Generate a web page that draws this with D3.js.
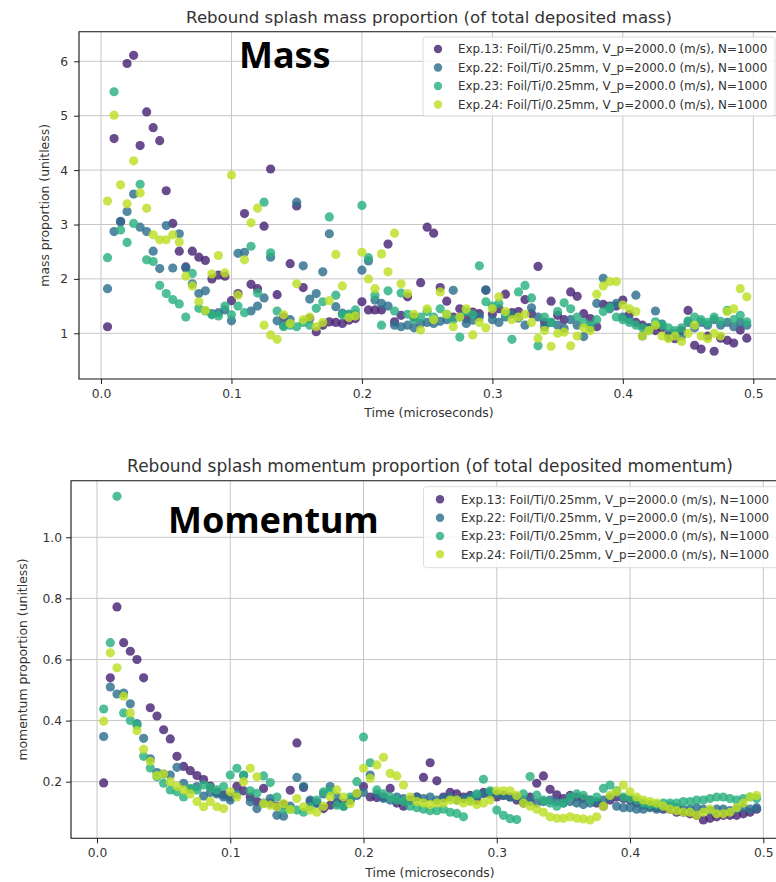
<!DOCTYPE html>
<html><head><meta charset="utf-8">
<script src="https://cdn.jsdelivr.net/npm/d3@7"></script>
<style>body{margin:0;background:#fff}svg{display:block}</style>
</head><body>
<svg id="c" width="776" height="882"></svg>
<script>
const times = [0.005,0.010,0.015,0.020,0.025,0.030,0.035,0.040,0.045,0.050,
0.055,0.060,0.065,0.070,0.075,0.080,0.085,0.090,0.095,0.100,
0.105,0.110,0.115,0.120,0.125,0.130,0.135,0.140,0.145,0.150,
0.155,0.160,0.165,0.170,0.175,0.180,0.185,0.190,0.195,0.200,
0.205,0.210,0.215,0.220,0.225,0.230,0.235,0.240,0.245,0.250,
0.255,0.260,0.265,0.270,0.275,0.280,0.285,0.290,0.295,0.300,
0.305,0.310,0.315,0.320,0.325,0.330,0.335,0.340,0.345,0.350,
0.355,0.360,0.365,0.370,0.375,0.380,0.385,0.390,0.395,0.400,
0.405,0.410,0.415,0.420,0.425,0.430,0.435,0.440,0.445,0.450,
0.455,0.460,0.465,0.470,0.475,0.480,0.485,0.490,0.495];

const seriesNames = ["Exp.13: Foil/Ti/0.25mm, V_p=2000.0 (m/s), N=1000",
"Exp.22: Foil/Ti/0.25mm, V_p=2000.0 (m/s), N=1000",
"Exp.23: Foil/Ti/0.25mm, V_p=2000.0 (m/s), N=1000",
"Exp.24: Foil/Ti/0.25mm, V_p=2000.0 (m/s), N=1000"];

// Mass proportion
const mass13 = [1.12,4.58,3.05,5.96,6.11,4.45,5.07,4.78,4.54,3.62,
3.02,2.51,2.22,2.51,2.40,2.34,2.00,2.07,2.05,1.60,
1.73,3.20,1.90,1.82,2.97,4.02,1.71,1.30,2.28,3.34,
1.84,1.27,1.03,1.15,1.21,1.20,1.18,1.24,1.27,1.58,
1.43,1.43,1.43,2.64,1.21,1.33,1.67,1.30,1.93,2.95,
2.84,1.84,1.59,1.30,1.45,1.27,1.39,1.36,1.79,1.35,
1.45,1.72,1.38,1.40,1.62,1.36,2.23,1.20,1.59,1.33,
1.25,1.76,1.68,1.36,1.27,1.12,1.53,1.50,1.50,1.61,
1.35,1.20,1.15,1.10,1.05,1.10,0.98,0.90,1.05,1.42,
0.78,0.71,0.95,0.67,0.91,0.87,0.82,1.06,0.91];
const mass22 = [1.82,2.87,3.06,3.24,3.56,2.95,2.87,2.51,2.19,2.98,
2.20,2.83,2.20,1.91,1.73,1.78,1.36,1.38,1.43,1.23,
2.47,2.49,1.41,1.50,1.65,2.40,1.23,1.15,1.25,3.41,
2.24,1.63,1.73,2.13,2.83,1.49,1.37,1.35,1.35,2.16,
2.33,1.61,1.55,1.50,1.15,1.12,1.15,1.10,1.18,1.20,
1.18,1.22,1.25,1.79,1.30,1.18,1.24,1.30,1.80,1.25,
1.20,1.30,1.35,1.28,1.15,1.47,1.30,1.12,1.20,1.15,
1.09,1.25,1.15,0.94,1.10,1.55,2.01,1.45,1.55,1.30,
1.25,1.70,0.95,1.10,1.41,1.17,0.93,1.00,0.95,1.20,
1.10,1.20,1.15,1.25,1.15,1.20,1.12,1.20,1.15];
const mass23 = [2.39,5.44,2.90,2.67,3.02,3.74,2.35,2.32,1.88,1.73,
1.62,1.54,1.30,2.10,1.46,1.41,1.34,1.32,1.50,1.34,
1.50,1.38,2.60,1.74,3.41,2.48,1.41,1.12,1.15,1.12,
1.20,1.15,1.46,1.58,3.14,1.70,1.34,1.35,1.43,3.35,
2.39,1.70,1.15,1.78,1.41,1.74,1.35,1.25,1.30,1.40,
1.30,1.45,1.35,1.25,0.93,1.40,1.35,2.24,1.58,1.50,
1.55,1.35,0.89,1.76,1.88,1.65,0.77,1.30,1.20,1.40,
1.56,1.45,1.30,1.20,1.15,1.25,1.40,1.48,1.30,1.25,
1.20,1.15,1.10,1.05,1.21,1.15,1.10,1.05,1.10,1.23,
1.30,1.25,1.20,1.30,1.22,1.42,1.25,1.33,1.21];
const mass24 = [3.43,5.01,3.73,3.38,4.17,3.58,3.30,2.81,2.72,2.72,
2.81,2.68,2.05,1.87,1.58,1.42,2.09,2.43,2.11,3.91,
1.70,2.35,3.03,3.30,1.15,0.97,0.89,1.34,1.18,1.91,
1.25,1.30,1.12,1.20,1.60,2.45,1.87,1.29,1.32,2.49,
2.00,1.82,2.46,2.13,2.84,1.91,1.73,1.35,1.06,1.45,
1.25,1.76,1.35,1.12,1.30,1.45,0.97,1.20,1.10,1.45,
1.67,1.40,1.25,1.30,1.35,1.20,0.91,1.05,0.76,1.00,
1.02,0.77,0.95,1.10,1.05,1.72,1.87,1.95,1.95,1.52,
1.45,1.40,0.95,1.05,1.15,0.95,0.90,0.95,0.85,1.00,
1.15,0.95,0.90,1.00,0.95,1.40,1.45,1.82,1.67];

// Momentum proportion
const mom13 = [0.196,0.540,0.772,0.655,0.627,0.600,0.540,0.442,0.415,0.370,
0.340,0.283,0.250,0.236,0.220,0.207,0.186,0.165,0.157,0.150,
0.185,0.170,0.150,0.135,0.178,0.130,0.120,0.125,0.172,0.327,
0.181,0.135,0.130,0.112,0.123,0.130,0.130,0.140,0.160,0.184,
0.150,0.148,0.150,0.178,0.130,0.120,0.140,0.150,0.214,0.262,
0.203,0.150,0.165,0.160,0.150,0.155,0.140,0.165,0.160,0.150,
0.155,0.150,0.140,0.130,0.150,0.195,0.219,0.175,0.157,0.145,
0.155,0.150,0.145,0.140,0.130,0.120,0.140,0.150,0.145,0.140,
0.130,0.125,0.120,0.115,0.110,0.110,0.100,0.100,0.095,0.090,
0.075,0.080,0.085,0.090,0.090,0.090,0.095,0.100,0.110];
const mom22 = [0.348,0.510,0.487,0.490,0.455,0.390,0.342,0.275,0.230,0.225,
0.222,0.247,0.195,0.175,0.184,0.153,0.165,0.160,0.150,0.140,
0.160,0.220,0.134,0.112,0.130,0.145,0.090,0.087,0.120,0.214,
0.184,0.140,0.130,0.160,0.184,0.150,0.120,0.140,0.155,0.165,
0.222,0.160,0.145,0.140,0.150,0.145,0.140,0.150,0.145,0.150,
0.140,0.145,0.150,0.140,0.145,0.150,0.155,0.160,0.165,0.160,
0.155,0.150,0.150,0.140,0.135,0.130,0.135,0.140,0.135,0.130,
0.135,0.130,0.125,0.130,0.135,0.140,0.150,0.120,0.115,0.115,
0.110,0.110,0.115,0.110,0.115,0.120,0.115,0.110,0.110,0.115,
0.110,0.105,0.110,0.110,0.105,0.110,0.115,0.110,0.115];
const mom23 = [0.438,0.655,1.134,0.425,0.400,0.385,0.283,0.245,0.216,0.195,
0.173,0.167,0.150,0.178,0.173,0.189,0.181,0.173,0.184,0.222,
0.244,0.222,0.170,0.162,0.219,0.197,0.150,0.107,0.110,0.107,
0.100,0.118,0.140,0.167,0.170,0.123,0.120,0.150,0.200,0.346,
0.262,0.173,0.160,0.150,0.140,0.135,0.120,0.115,0.110,0.105,
0.105,0.110,0.100,0.096,0.085,0.140,0.160,0.208,0.170,0.107,
0.090,0.079,0.076,0.160,0.217,0.156,0.140,0.130,0.120,0.130,
0.150,0.160,0.155,0.140,0.150,0.178,0.189,0.170,0.150,0.145,
0.140,0.130,0.125,0.125,0.130,0.130,0.130,0.135,0.135,0.140,
0.140,0.145,0.150,0.150,0.145,0.140,0.145,0.150,0.145];
const mom24 = [0.398,0.622,0.573,0.480,0.425,0.367,0.306,0.267,0.220,0.225,
0.200,0.185,0.173,0.160,0.135,0.118,0.135,0.118,0.112,0.167,
0.150,0.200,0.244,0.216,0.128,0.123,0.118,0.128,0.109,0.145,
0.118,0.107,0.100,0.120,0.151,0.173,0.150,0.128,0.162,0.244,
0.211,0.255,0.280,0.227,0.219,0.189,0.150,0.135,0.130,0.125,
0.130,0.130,0.140,0.140,0.130,0.135,0.125,0.130,0.140,0.170,
0.170,0.170,0.155,0.130,0.120,0.110,0.100,0.085,0.080,0.080,
0.085,0.080,0.078,0.075,0.085,0.120,0.155,0.167,0.189,0.167,
0.150,0.140,0.135,0.130,0.120,0.110,0.105,0.100,0.100,0.090,
0.100,0.110,0.095,0.095,0.100,0.115,0.130,0.150,0.155];

const xTicks = [0, 0.1, 0.2, 0.3, 0.4, 0.5];
const massTicks = [1, 2, 3, 4, 5, 6];
const momTicks = [0.2, 0.4, 0.6, 0.8, 1.0];

const colors = [0.1, 0.3667, 0.6333, 0.9].map(d3.interpolateViridis);
const FONT = "'DejaVu Sans', sans-serif";
const svg = d3.select("#c");

function panel(cfg) {
  const g = svg.append("g");
  const x = d3.scaleLinear().domain([0, 0.5]).range(cfg.xr);
  const y = d3.scaleLinear().domain(cfg.yd).range(cfg.yr);
  const f = cfg.frame;
  const clipId = "clip" + cfg.id;
  svg.append("clipPath").attr("id", clipId).append("rect")
    .attr("x", f.l).attr("y", f.t).attr("width", f.r - f.l).attr("height", f.b - f.t);
  // grid
  g.selectAll(".gx").data(xTicks).join("line")
    .attr("x1", d => x(d)).attr("x2", d => x(d)).attr("y1", f.t).attr("y2", f.b)
    .attr("stroke", "#c6c6c6").attr("stroke-width", 1);
  g.selectAll(".gy").data(cfg.yTicks).join("line")
    .attr("y1", d => y(d)).attr("y2", d => y(d)).attr("x1", f.l).attr("x2", f.r)
    .attr("stroke", "#c6c6c6").attr("stroke-width", 1);
  // points
  const pg = g.append("g").attr("clip-path", `url(#${clipId})`);
  cfg.series.forEach((vals, si) => {
    pg.append("g").selectAll("circle").data(vals).join("circle")
      .attr("cx", (d, i) => x(times[i])).attr("cy", d => y(d)).attr("r", 4.6)
      .attr("fill", colors[si]).attr("fill-opacity", 0.82);
  });
  // axes
  const ax = g.append("g").attr("transform", `translate(0,${f.b})`)
    .call(d3.axisBottom(x).tickValues(xTicks).tickFormat(d3.format(".1f")).tickSize(5).tickPadding(5));
  const ay = g.append("g").attr("transform", `translate(${f.l},0)`)
    .call(d3.axisLeft(y).tickValues(cfg.yTicks).tickFormat(cfg.yFmt).tickSize(5).tickPadding(cfg.ypad));
  [ax, ay].forEach(a => {
    a.select(".domain").remove();
    a.selectAll("line").attr("stroke", "#222");
    a.selectAll("text").attr("font-family", FONT).attr("font-size", 12.3).attr("fill", "#333");
  });
  // spines
  g.append("path").attr("d", `M${f.r},${f.t}H${f.l}V${f.b}H${f.r}`)
    .attr("fill", "none").attr("stroke", "#111").attr("stroke-width", 1.1);
  // title & labels
  g.append("text").attr("x", (f.l + f.r) / 2).attr("y", cfg.titleY).attr("text-anchor", "middle")
    .attr("font-family", FONT).attr("font-size", cfg.titleSize).attr("fill", "#333").text(cfg.title);
  g.append("text").attr("x", (f.l + f.r) / 2).attr("y", cfg.xlabY).attr("text-anchor", "middle")
    .attr("font-family", FONT).attr("font-size", 12.4).attr("fill", "#333").text("Time (microseconds)");
  g.append("text").attr("transform", `translate(${cfg.ylabX},${(f.t + f.b) / 2}) rotate(-90)`)
    .attr("text-anchor", "middle").attr("dy", "0.35em")
    .attr("font-family", FONT).attr("font-size", 12.4).attr("fill", "#333").text(cfg.ylab);
  // legend
  const L = cfg.legend;
  g.append("rect").attr("x", L.x).attr("y", L.y).attr("width", L.w).attr("height", L.h)
    .attr("rx", 3).attr("fill", "#fff").attr("fill-opacity", 0.82)
    .attr("stroke", "#dcdcdc").attr("stroke-width", 1);
  seriesNames.forEach((name, i) => {
    const ry = L.rows[i];
    g.append("circle").attr("cx", L.mx).attr("cy", ry).attr("r", 4.2)
      .attr("fill", colors[i]).attr("fill-opacity", 0.82);
    g.append("text").attr("x", L.tx).attr("y", ry).attr("dy", "0.36em")
      .attr("font-family", FONT).attr("font-size", L.fs).attr("fill", "#333").text(name);
  });
  // overlay label
  g.append("text").attr("x", cfg.big.x).attr("y", cfg.big.y)
    .attr("font-family", "'Noto Sans', sans-serif").attr("font-weight", 700)
    .attr("font-size", 36).attr("fill", "#000").text(cfg.big.text);
}

panel({
  id: "m", xr: [101, 753.3], yd: [1, 6], yr: [333.3, 61.3],
  frame: {l: 79, r: 779, t: 31.7, b: 379},
  yTicks: massTicks, yFmt: d3.format("d"), ypad: 6,
  title: "Rebound splash mass proportion (of total deposited mass)", titleY: 23, titleSize: 16.6,
  xlabY: 417, ylabX: 45, ylab: "mass proportion (unitless)",
  series: [mass13, mass22, mass23, mass24],
  legend: {x: 423, y: 37, w: 352, h: 79, rows: [49, 67.5, 86, 104.5], mx: 438, tx: 458, fs: 11.9},
  big: {x: 239, y: 68.3, text: "Mass"}
});
panel({
  id: "p", xr: [97, 763.3], yd: [0.2, 1.0], yr: [781.7, 537.3],
  frame: {l: 71, r: 789, t: 480.7, b: 838.3},
  yTicks: momTicks, yFmt: d3.format(".1f"), ypad: 4,
  title: "Rebound splash momentum proportion (of total deposited momentum)", titleY: 472, titleSize: 17,
  xlabY: 877, ylabX: 23, ylab: "momentum proportion (unitless)",
  series: [mom13, mom22, mom23, mom24],
  legend: {x: 423.5, y: 486.7, w: 360, h: 81, rows: [499.3, 517.7, 536, 554.3], mx: 440, tx: 461, fs: 11.85},
  big: {x: 168, y: 532.7, text: "Momentum"}
});
</script>
</body></html>
